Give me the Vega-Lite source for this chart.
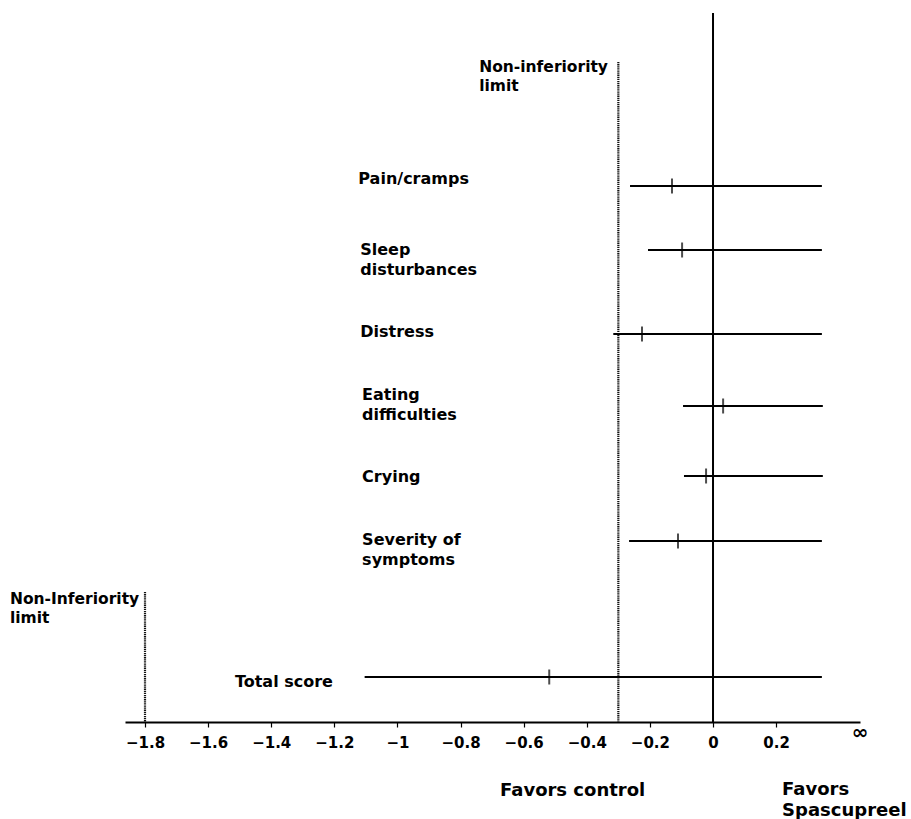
{
  "$schema": "https://vega.github.io/schema/vega-lite/v6.json",
  "autosize": {"type": "none"},
  "width": 735,
  "height": 722,
  "padding": {"left": 125, "right": 51, "top": 0, "bottom": 97},
  "background": "white",
  "config": {"view": {"stroke": null}},
  "datasets": {
    "ci": [
      {"outcome": "Pain/cramps", "lo": -0.263, "est": -0.13, "hi": 0.345, "pos": 186},
      {"outcome": "Sleep disturbances", "lo": -0.206, "est": -0.098, "hi": 0.345, "pos": 250},
      {"outcome": "Distress", "lo": -0.316, "est": -0.225, "hi": 0.345, "pos": 334},
      {"outcome": "Eating difficulties", "lo": -0.095, "est": 0.032, "hi": 0.348, "pos": 406},
      {"outcome": "Crying", "lo": -0.092, "est": -0.022, "hi": 0.348, "pos": 476},
      {"outcome": "Severity of symptoms", "lo": -0.266, "est": -0.111, "hi": 0.345, "pos": 541},
      {"outcome": "Total score", "lo": -1.104, "est": -0.519, "hi": 0.345, "pos": 677}
    ],
    "zeroLine": [{"x": 0, "top": 13, "bottom": 722}],
    "limits": [
      {"x": -0.3, "top": 62, "bottom": 722},
      {"x": -1.8, "top": 592, "bottom": 722}
    ],
    "rowLabels": [
      {"label": "Pain/cramps", "x": -1.124, "pos": 171},
      {"label": "Sleep\ndisturbances", "x": -1.118, "pos": 242},
      {"label": "Distress", "x": -1.118, "pos": 324},
      {"label": "Eating\ndifficulties", "x": -1.112, "pos": 387},
      {"label": "Crying", "x": -1.112, "pos": 469},
      {"label": "Severity of\nsymptoms", "x": -1.112, "pos": 532},
      {"label": "Total score", "x": -1.515, "pos": 674}
    ],
    "limitLabels": [
      {"label": "Non-inferiority\nlimit", "x": -0.741, "pos": 60},
      {"label": "Non-Inferiority\nlimit", "x": -2.228, "pos": 592}
    ],
    "favorLabels": [
      {"label": "Favors control", "x": -0.675, "pos": 782},
      {"label": "Favors\nSpascupreel", "x": 0.219, "pos": 781}
    ],
    "infinity": [{"label": "∞", "x": 0.4658, "pos": 733}]
  },
  "layer": [
    {
      "data": {"name": "zeroLine"},
      "mark": {"type": "rule", "color": "black", "strokeWidth": 2},
      "encoding": {
        "x": {"field": "x", "type": "quantitative",
              "scale": {"domain": [-1.8634, 0.4658], "nice": false, "zero": false},
              "axis": {"title": null, "grid": false, "values": [-1.8, -1.6, -1.4, -1.2, -1, -0.8, -0.6, -0.4, -0.2, 0, 0.2],
                       "format": "~g", "domainColor": "black", "domainWidth": 1.8, "tickColor": "black", "tickWidth": 1.2,
                       "tickSize": 5, "labelFont": "DejaVu Sans", "labelFontWeight": "bold", "labelFontSize": 15,
                       "labelColor": "black", "labelPadding": 8, "labelOverlap": false, "labelFlush": false, "labelBound": false}},
        "y": {"field": "top", "type": "quantitative", "scale": {"domain": [0, 722], "reverse": true, "nice": false, "zero": false}, "axis": null},
        "y2": {"field": "bottom"}
      }
    },
    {
      "data": {"name": "limits"},
      "mark": {"type": "rule", "color": "#111", "strokeWidth": 2.2, "strokeDash": [1.3, 0.8]},
      "encoding": {
        "x": {"field": "x", "type": "quantitative"},
        "y": {"field": "top", "type": "quantitative"},
        "y2": {"field": "bottom"}
      }
    },
    {
      "data": {"name": "ci"},
      "mark": {"type": "rule", "color": "black", "strokeWidth": 1.8},
      "encoding": {
        "x": {"field": "lo", "type": "quantitative"},
        "x2": {"field": "hi"},
        "y": {"field": "pos", "type": "quantitative"}
      }
    },
    {
      "data": {"name": "ci"},
      "mark": {"type": "tick", "orient": "vertical", "color": "black", "size": 15, "thickness": 2},
      "encoding": {
        "x": {"field": "est", "type": "quantitative"},
        "y": {"field": "pos", "type": "quantitative"}
      }
    },
    {
      "data": {"name": "rowLabels"},
      "mark": {"type": "text", "align": "left", "baseline": "top", "font": "DejaVu Sans", "fontWeight": "bold", "fontSize": 16, "lineHeight": 20, "lineBreak": "\n", "color": "black"},
      "encoding": {
        "x": {"field": "x", "type": "quantitative"},
        "y": {"field": "pos", "type": "quantitative"},
        "text": {"field": "label"}
      }
    },
    {
      "data": {"name": "limitLabels"},
      "mark": {"type": "text", "align": "left", "baseline": "top", "font": "DejaVu Sans", "fontWeight": "bold", "fontSize": 15.5, "lineHeight": 19, "lineBreak": "\n", "color": "black"},
      "encoding": {
        "x": {"field": "x", "type": "quantitative"},
        "y": {"field": "pos", "type": "quantitative"},
        "text": {"field": "label"}
      }
    },
    {
      "data": {"name": "favorLabels"},
      "mark": {"type": "text", "align": "left", "baseline": "top", "font": "DejaVu Sans", "fontWeight": "bold", "fontSize": 18, "lineHeight": 21, "lineBreak": "\n", "color": "black"},
      "encoding": {
        "x": {"field": "x", "type": "quantitative"},
        "y": {"field": "pos", "type": "quantitative"},
        "text": {"field": "label"}
      }
    },
    {
      "data": {"name": "infinity"},
      "mark": {"type": "text", "align": "center", "baseline": "middle", "font": "DejaVu Sans", "fontWeight": "bold", "fontSize": 20, "color": "black"},
      "encoding": {
        "x": {"field": "x", "type": "quantitative"},
        "y": {"field": "pos", "type": "quantitative"},
        "text": {"field": "label"}
      }
    }
  ]
}
